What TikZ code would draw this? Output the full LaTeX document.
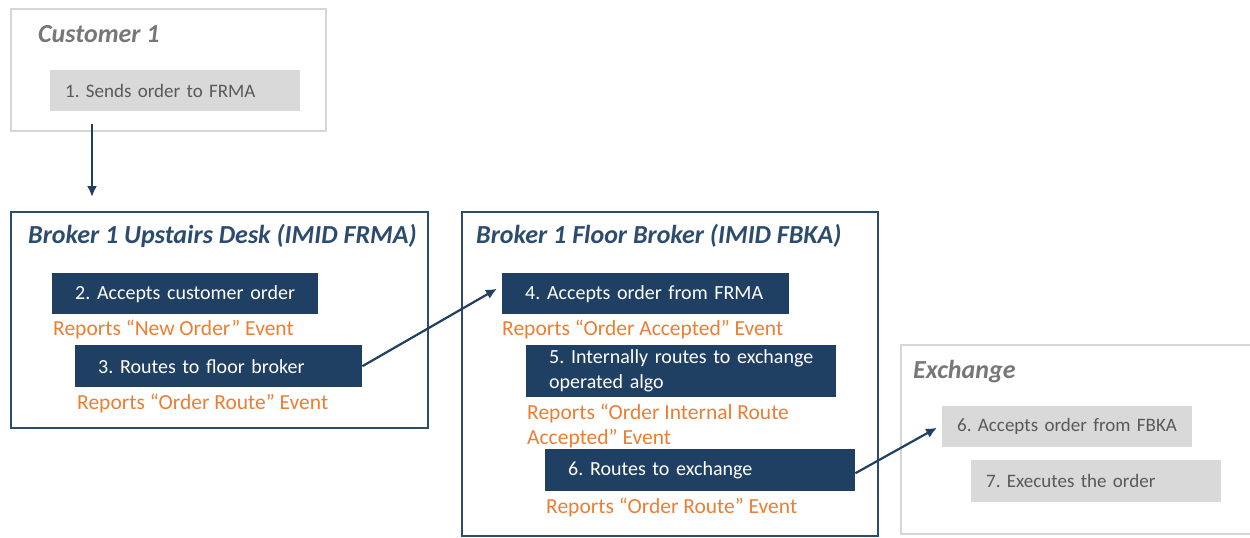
\documentclass[tikz,border=0pt]{standalone}
\usepackage{fontspec}
\setmainfont{Carlito}
\usetikzlibrary{positioning,arrows.meta}
\definecolor{navy}{HTML}{1F3F63}
\definecolor{frame}{HTML}{2C4C6E}
\definecolor{lightfill}{HTML}{D9D9D9}
\definecolor{lightframe}{HTML}{D6D6D6}
\definecolor{greytext}{HTML}{595959}
\definecolor{greytitle}{HTML}{777777}
\definecolor{evtorange}{HTML}{ED7D31}
\newcommand{\bodyfont}{\fontsize{21.5}{25}\selectfont\frenchspacing}
\newcommand{\stepfont}{\fontsize{20}{25}\selectfont\frenchspacing}
\newcommand{\titlefont}{\fontsize{26}{30}\selectfont\bfseries\itshape}

\begin{document}
\begin{tikzpicture}[x=1pt, y=-1pt, >=Latex,
    group/.style={draw=#1, line width=2pt, anchor=north west, inner sep=0pt},
    grouptitle/.style={font=\titlefont, text=#1, anchor=base west, inner sep=0pt},
    navybox/.style={fill=navy, text=white, font=\stepfont, anchor=north west, inner xsep=23pt, inner ysep=0pt, align=left, text width=#1},
    greybox/.style={fill=lightfill, text=greytext, font=\stepfont\fontsize{19}{25}\selectfont, anchor=north west, inner xsep=15pt, inner ysep=0pt, align=left, text width=#1},
    evt/.style={font=\bodyfont, text=evtorange, align=left, inner sep=0pt},
    flow/.style={-{Latex[length=11pt,width=10pt]}, draw=navy, line width=2.2pt}]
      \useasboundingbox (0,0) rectangle (1250,538);
      \clip (0,0) rectangle (1250,538);
      % groups
      \node[group=lightframe, minimum width=315pt, minimum height=122pt] (c1) at (10,8) {};
      \node[group=frame, minimum width=417pt, minimum height=216pt] (desk) at (10,211) {};
      \node[group=frame, minimum width=416pt, minimum height=324pt] (floor) at (461,211) {};
      \node[group=lightframe, minimum width=362pt, minimum height=189pt] (exch) at (900,344) {};
      \node[grouptitle=greytitle] (t1) at ([xshift=28pt,yshift=-34pt]c1.north west) {Customer 1};
      \node[grouptitle=frame] (t2) at ([xshift=18pt,yshift=-32pt]desk.north west) {Broker 1 Upstairs Desk (IMID FRMA)};
      \node[grouptitle=frame] (t3) at ([xshift=15pt,yshift=-32pt]floor.north west) {Broker 1 Floor Broker (IMID FBKA)};
      \node[grouptitle=greytitle] (t4) at ([xshift=13pt,yshift=-34pt]exch.north west) {Exchange};
      % steps
      \node[greybox=220pt, minimum height=41pt] (s1) at (50,70) {\mbox{1. Sends order to FRMA}};
      \node[navybox=220pt, minimum height=41pt] (s2) at (52,273) {\mbox{2. Accepts customer order}};
      \node[evt, below right=5pt and 1pt of s2.south west] (e2) {Reports “New Order” Event};
      \node[navybox=241pt, minimum height=42pt] (s3) at (75,345) {\mbox{3. Routes to floor broker}};
      \node[evt, below right=6pt and 2pt of s3.south west] (e3) {Reports “Order Route” Event};
      \node[navybox=241pt, minimum height=41pt] (s4) at (502,273) {\mbox{4. Accepts order from FRMA}};
      \node[evt, below right=5pt and 0pt of s4.south west] (e4) {Reports “Order Accepted” Event};
      \node[navybox=264pt, minimum height=52pt] (s5) at (526,345) {\mbox{5. Internally routes to exchange}\\operated algo};
      \node[evt, below right=6pt and 1pt of s5.south west] (e5) {Reports “Order Internal Route\\Accepted” Event};
      \node[navybox=264pt, minimum height=42pt] (s6) at (545,449) {\mbox{6. Routes to exchange}};
      \node[evt, below right=6pt and 1pt of s6.south west] (e6) {Reports “Order Route” Event};
      \node[greybox=220pt, minimum height=41pt] (x6) at (942,406) {\mbox{6. Accepts order from FBKA}};
      \node[greybox=220pt, minimum height=42pt] (x7) at (971,460) {\mbox{7. Executes the order}};
      % hand-offs
      \draw[flow] ([xshift=82pt,yshift=8pt]c1.south west) -- ([xshift=82pt,yshift=14pt]desk.north west);
      \draw[flow] (s3.east) -- ([xshift=-5pt,yshift=5pt]s4.west);
      \draw[flow] ([yshift=-3pt]s6.east) -- ([xshift=-5pt,yshift=-1pt]x6.west);
\end{tikzpicture}
\end{document}
